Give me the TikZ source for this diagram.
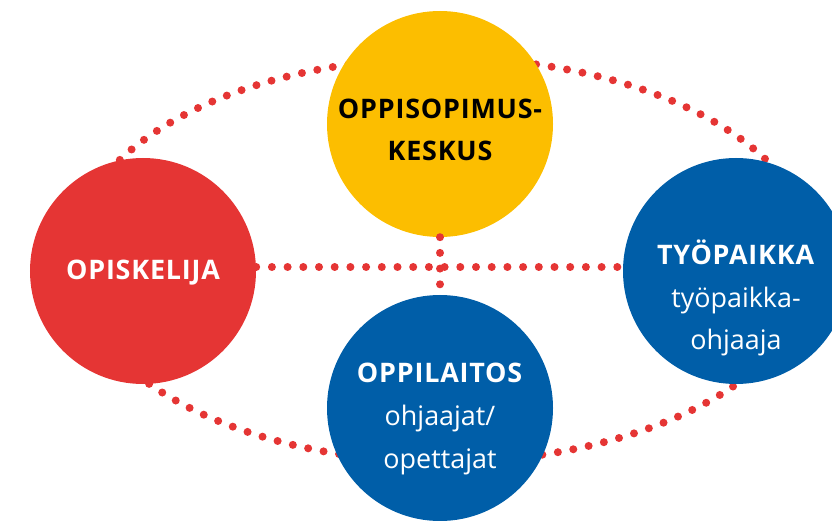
\documentclass[tikz,border=0pt]{standalone}
\usepackage{fontspec}
\setmainfont{Open Sans}[BoldFeatures={LetterSpace=3}]
\definecolor{punainen}{RGB}{229,53,52}
\definecolor{keltainen}{RGB}{252,190,0}
\definecolor{sininen}{RGB}{0,94,168}
\begin{document}
\begin{tikzpicture}[x=1bp, y=-1bp, line cap=round,
	pallo/.style={circle, minimum size=226bp, inner sep=0pt},
	pisteet/.style={punainen, line width=8bp, dash pattern=on 0pt off 15.7bp},
	teksti/.style={align=center, font=\fontsize{27}{43}\selectfont}]
	\useasboundingbox (0,0) rectangle (832,521);
	\clip (0,0) rectangle (832,521);
	\draw[pisteet] (443,260) ellipse [x radius=372, y radius=202];
	\node[pallo, fill=punainen] (opiskelija) at (143,271) {};
	\node[pallo, fill=keltainen] (keskus) at (440,124) {};
	\node[pallo, fill=sininen] (tyopaikka) at (736,271) {};
	\node[pallo, fill=sininen] (oppilaitos) at (440,408) {};
	\draw[pisteet] ([yshift=4bp]opiskelija.east) -- ([yshift=4bp]tyopaikka.west);
	\draw[pisteet] (keskus.south) -- (oppilaitos.north);
	\node[teksti, text=white, font=\fontsize{27}{43}\selectfont\bfseries, anchor=base] (opiskelijateksti) at (143,280) {OPISKELIJA};
	\node[teksti, font=\fontsize{27}{42}\selectfont\bfseries] (keskusteksti) at (440,130) {OPPISOPIMUS-\\KESKUS};
	\node[teksti, text=white] (tyopaikkateksti) at (736,298) {\textbf{TYÖPAIKKA}\\työpaikka-\\ohjaaja};
	\node[teksti, text=white] (oppilaitosteksti) at (440,419) {\textbf{OPPILAITOS}\\ohjaajat/\\opettajat};
\end{tikzpicture}
\end{document}
